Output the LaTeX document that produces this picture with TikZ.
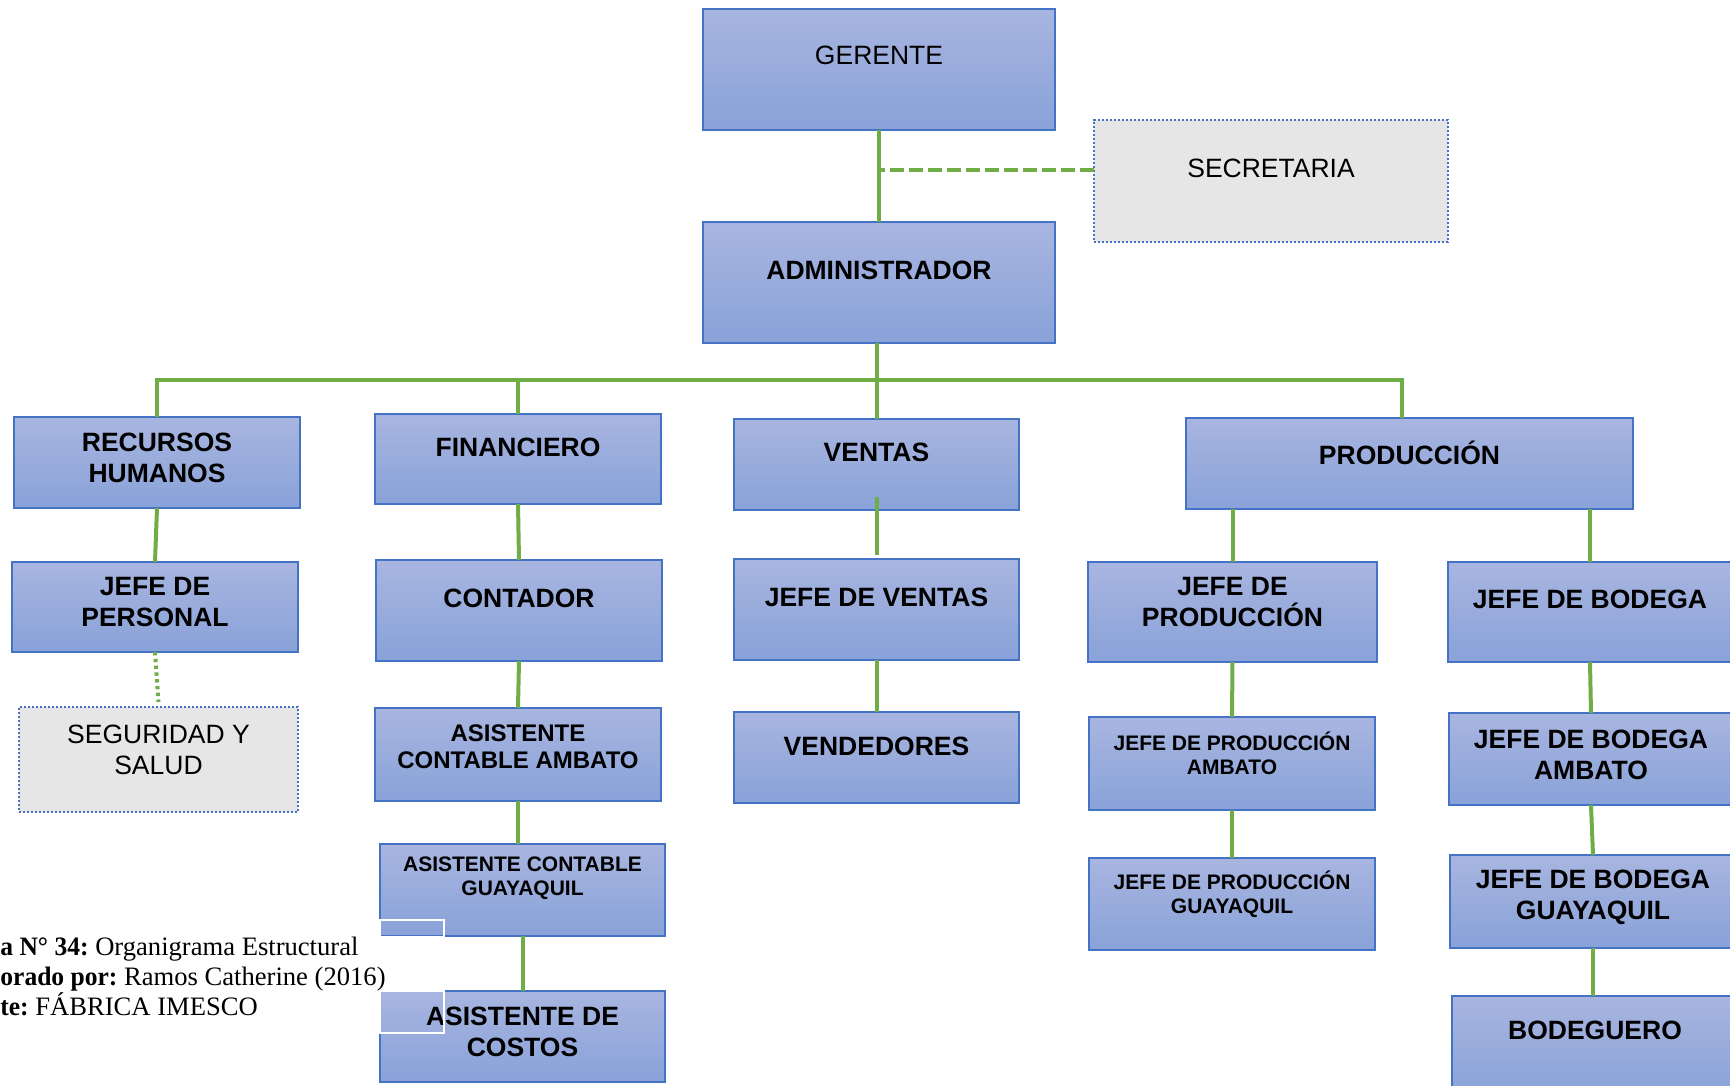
\documentclass[tikz,border=0pt]{standalone}
\usepackage{fontspec}
\usepackage{graphicx}
\setmainfont{Liberation Serif}
\newfontfamily\arialf{Liberation Sans}
\definecolor{boxtop}{RGB}{168,181,224}
\definecolor{boxbot}{RGB}{137,162,216}
\definecolor{boxedge}{RGB}{68,114,196}
\definecolor{boxgray}{RGB}{230,230,230}
\definecolor{linegreen}{RGB}{112,173,71}
% box from (x1,y1) to (x2,y2), in pixel units
\newcommand\orgbox[6]{\node[#2,minimum width={(#5-#3)*0.5pt},minimum height={(#6-#4)*0.5pt}] (#1) at ({(#3+#5)/2},{(#4+#6)/2}) {};}
% label of a box, centred on the box at height #3
\newcommand\orgtext[4]{\node[boxtext,#2] (#1t) at (#1.center |- 0,#3) {#4};}
% narrow bold lead-in of the caption lines
\newcommand\capbold[1]{\scalebox{0.96}[1]{\textbf{#1}}}
\begin{document}
\begin{tikzpicture}[x=0.5pt,y=-0.5pt,
  bluebox/.style={rectangle,draw=boxedge,line width=0.9pt,top color=boxtop,bottom color=boxbot,inner sep=0pt,outer sep=0pt},
  graybox/.style={rectangle,draw=boxedge,line width=0.7pt,dash pattern=on 1.2pt off 0.8pt,fill=boxgray,inner sep=0pt,outer sep=0pt},
  boxtext/.style={inner sep=0pt,align=center,text=black},
  tbig/.style={font=\arialf\bfseries\fontsize{13.25}{15.5}\selectfont},
  treg/.style={font=\arialf\fontsize{13.25}{15.5}\selectfont},
  tmid/.style={font=\arialf\bfseries\fontsize{12}{13.5}\selectfont},
  tsmall/.style={font=\arialf\bfseries\fontsize{10.5}{12}\selectfont},
  conn/.style={draw=linegreen,line width=2pt},
  dashconn/.style={draw=linegreen,line width=2.2pt,dash pattern=on 7pt off 2.5pt},
  dotconn/.style={draw=linegreen,line width=2pt,dash pattern=on 1.7pt off 1.7pt},
  ghost/.style={draw=white,line width=0.8pt},
  captext/.style={anchor=base west,inner sep=0pt,font=\fontsize{13.3}{15.5}\selectfont}
]
\clip (0,0) rectangle (1730,1086);

% boxes
\orgbox{ger}{bluebox}{703}{9}{1055}{130}
\orgbox{sec}{graybox}{1094}{120}{1448}{242}
\orgbox{adm}{bluebox}{703}{222}{1055}{343}
\orgbox{rrh}{bluebox}{14}{417}{300}{508}
\orgbox{fin}{bluebox}{375}{414}{661}{504}
\orgbox{ven}{bluebox}{734}{419}{1019}{510}
\orgbox{pro}{bluebox}{1186}{418}{1633}{509}
\orgbox{jper}{bluebox}{12}{562}{298}{652}
\orgbox{seg}{graybox}{19}{707}{298}{812}
\orgbox{con}{bluebox}{376}{560}{662}{661}
\orgbox{aca}{bluebox}{375}{708}{661}{801}
\orgbox{acg}{bluebox}{380}{844}{665}{936}
\orgbox{cos}{bluebox}{380}{991}{665}{1082}
\orgbox{jve}{bluebox}{734}{559}{1019}{660}
\orgbox{vnd}{bluebox}{734}{712}{1019}{803}
\orgbox{jpr}{bluebox}{1088}{562}{1377}{662}
\orgbox{jpa}{bluebox}{1089}{717}{1375}{810}
\orgbox{jpg}{bluebox}{1089}{858}{1375}{950}
\orgbox{jbo}{bluebox}{1448}{562}{1732}{662}
\orgbox{jba}{bluebox}{1449}{713}{1733}{805}
\orgbox{jbg}{bluebox}{1450}{855}{1736}{948}
\orgbox{bdg}{bluebox}{1452}{996}{1738}{1100}

% connectors
\draw[conn] (ger.south) -- (adm.north);
\coordinate (secin) at ([yshift=5.5pt]sec.west);
\draw[dashconn] (secin) -- (secin -| ger.south);
\coordinate (busR) at (1402,380);
\draw[conn] (rrh.north) |- (busR) -- (busR |- pro.north);
\draw[conn] (fin.north) -- (fin.north |- busR);
\draw[conn] (adm.south -| ven.north) -- (ven.north);
\draw[conn] (rrh.south) -- (jper.north);
\draw[dotconn] (jper.south) -- ([yshift=2.5pt]seg.north);
\draw[conn] (fin.south) -- (con.north);
\draw[conn] (con.south) -- (aca.north);
\draw[conn] (aca.south) -- (aca.south |- acg.north);
\draw[conn] (acg.south) -- (acg.south |- cos.north);
\draw[conn] ([yshift=6.5pt]ven.south) -- ([yshift=2pt]jve.north);
\draw[conn] (jve.south) -- (vnd.north);
\draw[conn] (jpr.north |- pro.south) -- (jpr.north);
\draw[conn] (jpr.south) -- (jpa.north);
\draw[conn] (jpa.south) -- (jpg.north);
\draw[conn] (jbo.north |- pro.south) -- (jbo.north);
\draw[conn] (jbo.south) -- (jba.north);
\draw[conn] (jba.south) -- (jbg.north);
\draw[conn] (jbg.south) -- (jbg.south |- bdg.north);

% labels
\orgtext{ger}{treg}{55}{GERENTE}
\orgtext{sec}{treg}{168}{SECRETARIA}
\orgtext{adm}{tbig}{270}{ADMINISTRADOR}
\orgtext{rrh}{tbig}{457.5}{RECURSOS\\HUMANOS}
\orgtext{fin}{tbig}{447}{FINANCIERO}
\orgtext{ven}{tbig}{452}{VENTAS}
\orgtext{pro}{tbig}{453}{PRODUCCIÓN}
\orgtext{jper}{tbig}{602.5}{JEFE DE\\PERSONAL}
\orgtext{seg}{treg}{749.5}{SEGURIDAD Y\\SALUD}
\orgtext{con}{tbig}{598}{CONTADOR}
\orgtext{aca}{tmid}{746.5}{ASISTENTE\\CONTABLE AMBATO}
\orgtext{acg}{tsmall}{878}{ASISTENTE CONTABLE\\GUAYAQUIL}
\orgtext{cos}{tbig}{1031.5}{ASISTENTE DE\\COSTOS}
\orgtext{jve}{tbig}{597}{JEFE DE VENTAS}
\orgtext{vnd}{tbig}{746}{VENDEDORES}
\orgtext{jpr}{tbig}{602.5}{JEFE DE\\PRODUCCIÓN}
\orgtext{jpa}{tsmall}{753}{JEFE DE PRODUCCIÓN\\AMBATO}
\orgtext{jpg}{tsmall}{894}{JEFE DE PRODUCCIÓN\\GUAYAQUIL}
\orgtext{jbo}{tbig}{599}{JEFE DE BODEGA}
\orgtext{jba}{tbig}{754.5}{JEFE DE BODEGA\\AMBATO}
\orgtext{jbg}{tbig}{897}{JEFE DE BODEGA\\GUAYAQUIL}
\orgtext{bdg}{tbig}{1030}{BODEGUERO}

% thin white frames over the left column boxes
\draw[ghost] (380,920) rectangle (444,937);
\draw[ghost] (380,991) rectangle (444,1033);

% caption
\node[captext] (cap1) at (0,955) {\capbold{a N° 34:} Organigrama Estructural};
\node[captext] (cap2) at (0,985) {\capbold{orado por:} Ramos Catherine (2016)};
\node[captext] (cap3) at (0,1015) {\capbold{te:} FÁBRICA IMESCO};
\end{tikzpicture}
\end{document}
